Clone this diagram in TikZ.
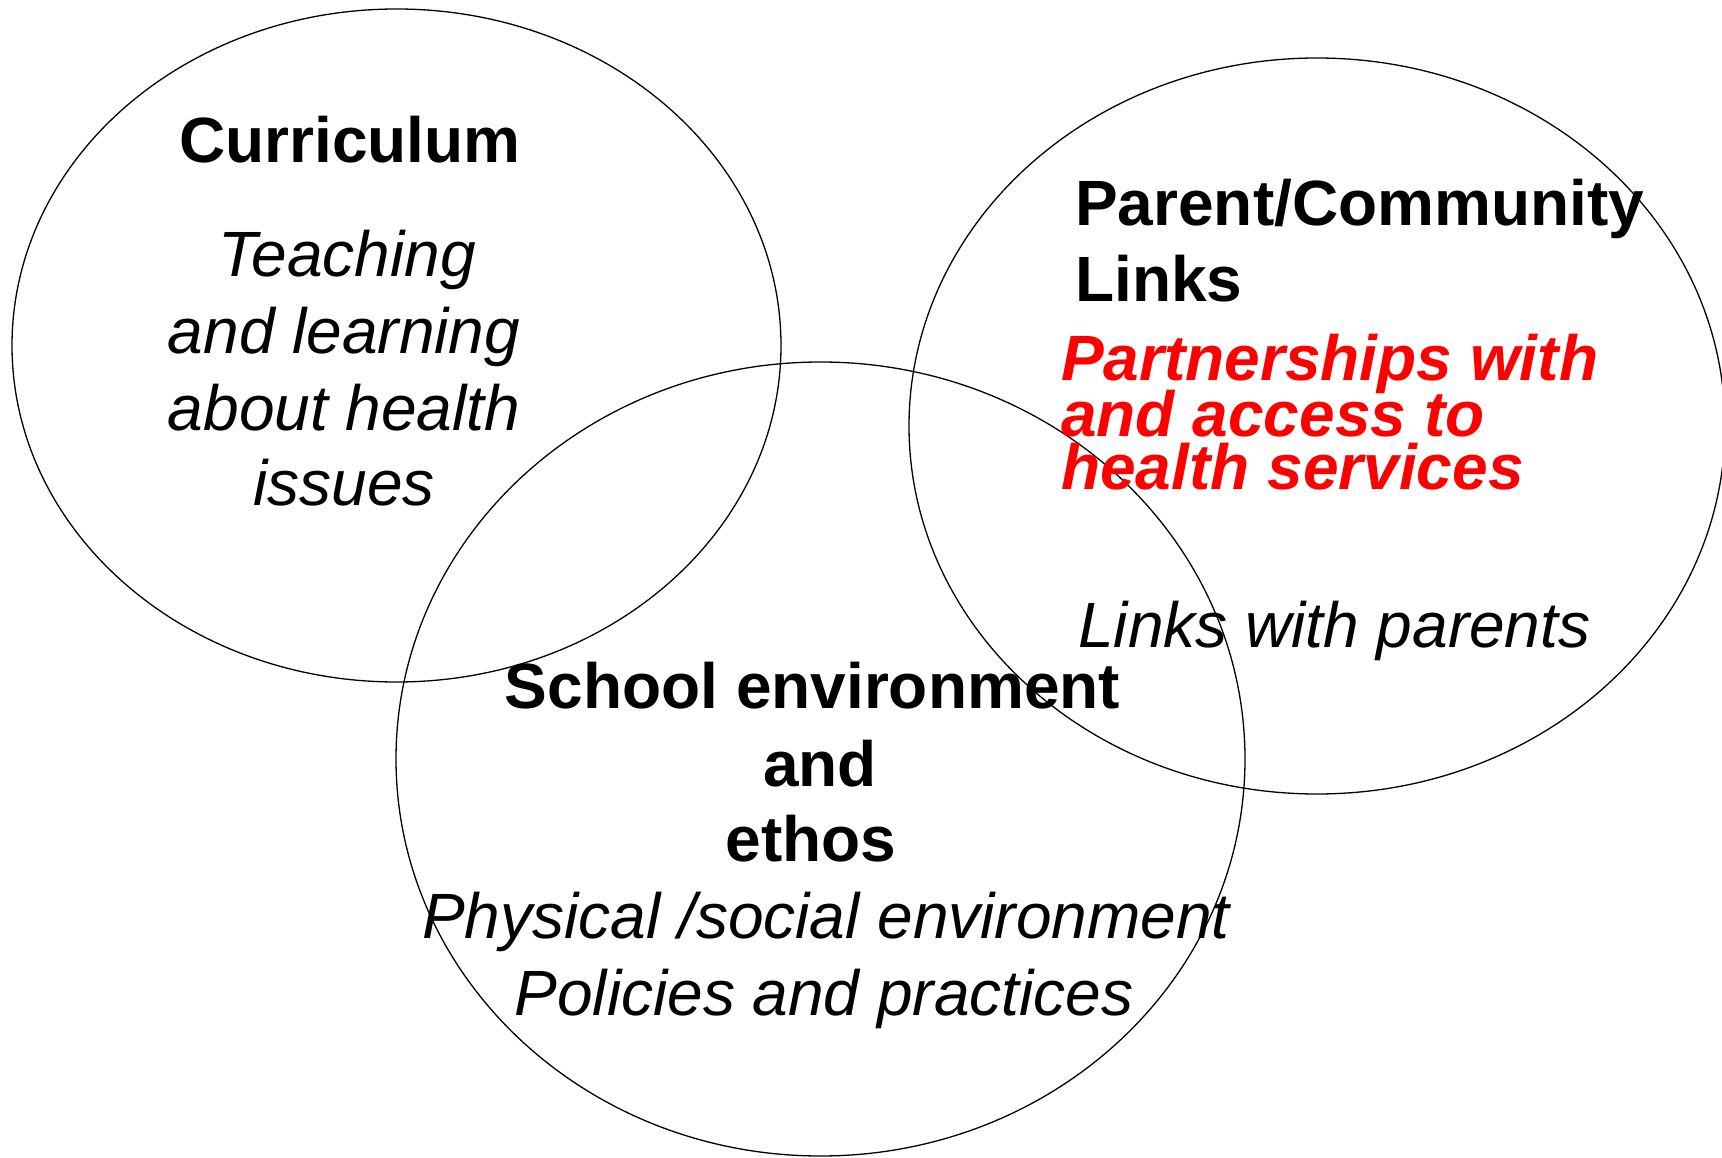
\documentclass[tikz,border=0pt]{standalone}
\usepackage{fontspec}
\setmainfont{Liberation Sans}
\usetikzlibrary{shapes.geometric}
\definecolor{pred}{RGB}{255,0,0}
\tikzset{
  ring/.style={ellipse, draw=black, line width=1.3pt, inner sep=0pt},
  ttl/.style={anchor=base, inner sep=0pt, font=\fontsize{64}{76}\selectfont\bfseries},
  itl/.style={anchor=base, inner sep=0pt, font=\fontsize{64}{76}\selectfont\itshape},
  redl/.style={anchor=base west, inner sep=0pt, text=pred, font=\fontsize{64}{76}\selectfont\bfseries\itshape},
}
\begin{document}
\begin{tikzpicture}[x=1pt,y=-1pt]
\useasboundingbox (0,0) rectangle (1722,1158);
\fill[white] (0,0) rectangle (1722,1158);
% circles
\node (curr) [ring, minimum width=769pt, minimum height=673pt] at (396.5,345.5) {};
\node (comm) [ring, minimum width=816pt, minimum height=736pt] at (1317,426) {};
\node (school) [ring, minimum width=849pt, minimum height=794pt] at (820.5,759) {};
% Curriculum
\node (c0) [ttl] at (350,162.5) {Curriculum};
\node (c1) [itl] at (347,277) {Teaching};
\node (c2) [itl] at (344,354) {and learning};
\node (c3) [itl] at (344,430) {about health};
\node (c4) [itl] at (344,505) {issues};
% Parent/Community
\node (p0) [ttl, anchor=base west] at (1075,226) {Parent/Community};
\node (p1) [ttl, anchor=base west] at (1075,302) {Links};
\node (r0) [redl] at (1061,381) {Partnerships with};
\node (r1) [redl] at (1061,436) {and access to};
\node (r2) [redl] at (1061,489) {health services};
\node (p2) [itl, anchor=base west] at (1078,647) {Links with parents};
% School
\node (s0) [ttl] at (812.5,708.5) {School environment};
\node (s1) [ttl] at (820,786) {and};
\node (s2) [ttl] at (811,861.5) {ethos};
\node (s3) [itl] at (826,938.5) {Physical /social environment};
\node (s4) [itl] at (824,1015) {Policies and practices};
\end{tikzpicture}
\end{document}
